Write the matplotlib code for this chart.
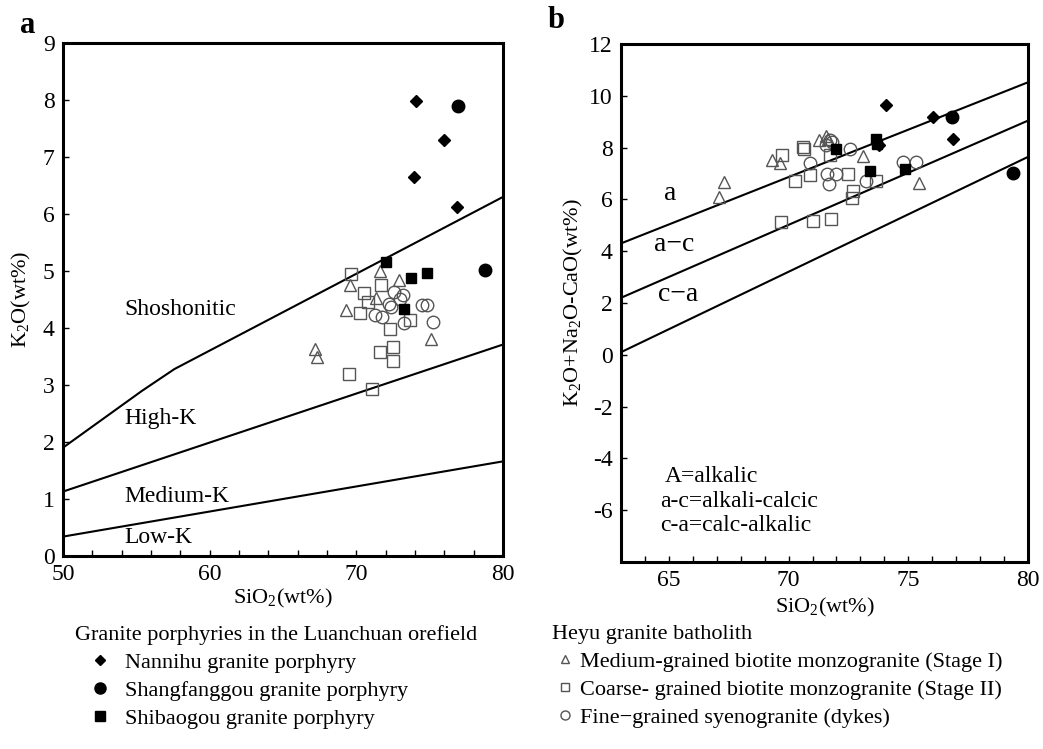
import matplotlib
matplotlib.use("Agg")
import matplotlib.pyplot as plt
from matplotlib.lines import Line2D

plt.rcParams['font.family'] = ['Liberation Serif', 'DejaVu Serif']
plt.rcParams['mathtext.fontset'] = 'custom'
plt.rcParams['mathtext.rm'] = 'Liberation Serif'
plt.rcParams['mathtext.it'] = 'Liberation Serif'
plt.rcParams['axes.unicode_minus'] = False

# ---- panel a: SiO2 vs K2O ----
a_nannihu_x = [74.06, 75.96, 73.95, 76.85]
a_nannihu_y = [7.99, 7.30, 6.65, 6.12]
a_shangf_x = [76.94, 78.80]
a_shangf_y = [7.90, 5.02]
a_shibao_x = [72.0, 73.7, 74.85, 73.27]
a_shibao_y = [5.16, 4.87, 4.96, 4.33]
a_stage1_x = [71.59, 69.57, 72.9, 71.32, 69.3, 67.16, 67.35, 75.12]
a_stage1_y = [5.00, 4.75, 4.85, 4.52, 4.31, 3.64, 3.49, 3.81]
a_stage2_x = [69.64, 71.66, 70.52, 70.79, 70.25, 72.31, 73.67, 72.47, 71.61, 72.47, 69.52, 71.04]
a_stage2_y = [4.95, 4.76, 4.62, 4.45, 4.26, 3.98, 4.14, 3.67, 3.58, 3.42, 3.19, 2.93]
a_dykes_x = [72.54, 73.2, 72.97, 72.2, 72.38, 71.27, 71.77, 73.27, 74.49, 74.81, 75.24]
a_dykes_y = [4.63, 4.57, 4.51, 4.42, 4.37, 4.23, 4.20, 4.08, 4.40, 4.40, 4.10]

shosh_x = [50, 55.4, 57.6, 80]
shosh_y = [1.9, 2.9, 3.28, 6.3]
highk_x = [50, 80]
highk_y = [1.13, 3.71]
medk_x = [50, 80]
medk_y = [0.34, 1.66]

# ---- panel b: SiO2 vs K2O+Na2O-CaO ----
b_nannihu_x = [74.09, 76.04, 76.87, 73.78]
b_nannihu_y = [9.63, 9.19, 8.35, 8.08]
b_shangf_x = [76.84, 79.37]
b_shangf_y = [9.19, 7.02]
b_shibao_x = [73.67, 73.70, 72.0, 73.42, 74.85]
b_shibao_y = [8.35, 8.15, 7.93, 7.08, 7.17]
b_stage1_x = [67.3, 67.1, 69.32, 69.64, 71.28, 71.58, 71.65, 73.11, 75.45]
b_stage1_y = [6.68, 6.09, 7.52, 7.42, 8.28, 8.45, 8.35, 7.67, 6.63]
b_stage2_x = [69.72, 70.61, 70.64, 71.72, 70.28, 70.89, 72.49, 72.70, 72.63, 73.64, 69.70, 71.0, 71.76]
b_stage2_y = [7.70, 8.01, 7.96, 7.71, 6.72, 6.96, 6.97, 6.34, 6.06, 6.72, 5.13, 5.17, 5.23]
b_dykes_x = [71.72, 71.82, 71.58, 72.55, 70.89, 71.61, 72.0, 71.69, 73.25, 74.78, 75.31]
b_dykes_y = [8.30, 8.20, 8.08, 7.96, 7.40, 6.97, 6.97, 6.60, 6.71, 7.46, 7.45]

line_a_x = [63, 80]
line_a_y = [4.3, 10.52]
line_ac_x = [63, 80]
line_ac_y = [2.2, 9.04]
line_ca_x = [63, 80]
line_ca_y = [0.1, 7.64]

gray = '#555555'
fs = 16

fig = plt.figure(figsize=(10.43, 7.49), dpi=100)
axa = fig.add_axes([0.0604, 0.2577, 0.4219, 0.6849])
axb = fig.add_axes([0.5954, 0.2497, 0.3902, 0.6916])


def draw_points(ax, nx, ny, sx, sy, bx, by, t1x, t1y, t2x, t2y, dx, dy):
    ax.plot(t1x, t1y, '^', ms=8, mfc='none', mec=gray, mew=1.0, ls='none')
    ax.plot(t2x, t2y, 's', ms=8, mfc='none', mec=gray, mew=1.0, ls='none')
    ax.plot(dx, dy, 'o', ms=9, mfc='none', mec=gray, mew=1.0, ls='none')
    ax.plot(nx, ny, 'D', ms=6.5, color='black', ls='none')
    ax.plot(sx, sy, 'o', ms=9, color='black', ls='none')
    ax.plot(bx, by, 's', ms=7, color='black', ls='none')


def style(ax):
    for s in ax.spines.values():
        s.set_linewidth(2.2)
    ax.tick_params(which='both', direction='in', length=4, width=1,
                   labelsize=fs + 1, top=False, right=False, pad=6)


# panel a
axa.plot(shosh_x, shosh_y, color='black', lw=1.5)
axa.plot(highk_x, highk_y, color='black', lw=1.5)
axa.plot(medk_x, medk_y, color='black', lw=1.5)
draw_points(axa, a_nannihu_x, a_nannihu_y, a_shangf_x, a_shangf_y, a_shibao_x, a_shibao_y,
            a_stage1_x, a_stage1_y, a_stage2_x, a_stage2_y, a_dykes_x, a_dykes_y)
axa.set_xlim(50, 80)
axa.set_ylim(0, 9)
axa.set_xticks([50, 60, 70, 80])
axa.set_xticks(range(50, 81, 2), minor=True)
axa.set_yticks(range(0, 10))
style(axa)
axa.set_xlabel('SiO$_2$(wt%)', fontsize=fs, labelpad=1)
axa.set_ylabel('K$_2$O(wt%)', fontsize=fs, labelpad=7)
for lab, yy in [('Shoshonitic', 4.33), ('High-K', 2.42), ('Medium-K', 1.05), ('Low-K', 0.32)]:
    axa.text(54.2, yy, lab, fontsize=fs + 1, va='center')

# panel b
axb.plot(line_a_x, line_a_y, color='black', lw=1.5)
axb.plot(line_ac_x, line_ac_y, color='black', lw=1.5)
axb.plot(line_ca_x, line_ca_y, color='black', lw=1.5)
draw_points(axb, b_nannihu_x, b_nannihu_y, b_shangf_x, b_shangf_y, b_shibao_x, b_shibao_y,
            b_stage1_x, b_stage1_y, b_stage2_x, b_stage2_y, b_dykes_x, b_dykes_y)
axb.set_xlim(63, 80)
axb.set_ylim(-8, 12)
axb.set_xticks([65, 70, 75, 80])
axb.set_xticks(range(63, 81), minor=True)
axb.set_yticks(range(-6, 13, 2))
style(axb)
axb.set_xlabel('SiO$_2$(wt%)', fontsize=fs, labelpad=3)
axb.set_ylabel('K$_2$O+Na$_2$O-CaO(wt%)', fontsize=fs, labelpad=3)
axb.text(65.04, 6.24, 'a', fontsize=20, va='center', ha='center')
axb.text(65.2, 4.24, 'a\u2212c', fontsize=20, va='center', ha='center')
axb.text(65.4, 2.32, 'c\u2212a', fontsize=20, va='center', ha='center')
axb.text(64.83, -4.7, 'A=alkalic', fontsize=fs + 1, va='center')
axb.text(64.63, -5.66, 'a-c=alkali-calcic', fontsize=fs + 1, va='center')
axb.text(64.63, -6.58, 'c-a=calc-alkalic', fontsize=fs + 1, va='center')

fig.text(0.019, 0.966, 'a', fontsize=22, fontweight='bold', va='center')
fig.text(0.525, 0.972, 'b', fontsize=22, fontweight='bold', va='center')

# legends
left_handles = [
    Line2D([], [], marker='D', ms=5.5, color='black', ls='none'),
    Line2D([], [], marker='o', ms=8, color='black', ls='none'),
    Line2D([], [], marker='s', ms=6.5, color='black', ls='none'),
]
left_labels = ['Nannihu granite porphyry', 'Shangfanggou granite porphyry',
               'Shibaogou granite porphyry']
right_handles = [
    Line2D([], [], marker='^', ms=6, mfc='none', mec=gray, mew=1.0, ls='none'),
    Line2D([], [], marker='s', ms=6, mfc='none', mec=gray, mew=1.0, ls='none'),
    Line2D([], [], marker='o', ms=6.5, mfc='none', mec=gray, mew=1.0, ls='none'),
]
right_labels = ['Medium-grained biotite monzogranite (Stage I)',
                'Coarse- grained biotite monzogranite (Stage II)',
                'Fine\u2212grained syenogranite (dykes)']

fig.legend(left_handles, left_labels, loc='upper left',
           bbox_to_anchor=(0.072, 0.166), frameon=False,
           title='Granite porphyries in the Luanchuan orefield',
           alignment='left', fontsize=fs, title_fontsize=fs,
           handlelength=2.2, handletextpad=0.05, labelspacing=0.34,
           borderpad=0, borderaxespad=0)
fig.legend(right_handles, right_labels, loc='upper left',
           bbox_to_anchor=(0.529, 0.166), frameon=False,
           title='Heyu granite batholith',
           alignment='left', fontsize=fs, title_fontsize=fs,
           handlelength=1.2, handletextpad=0.05, labelspacing=0.34,
           borderpad=0, borderaxespad=0)

fig.savefig('out.png', dpi=100)
